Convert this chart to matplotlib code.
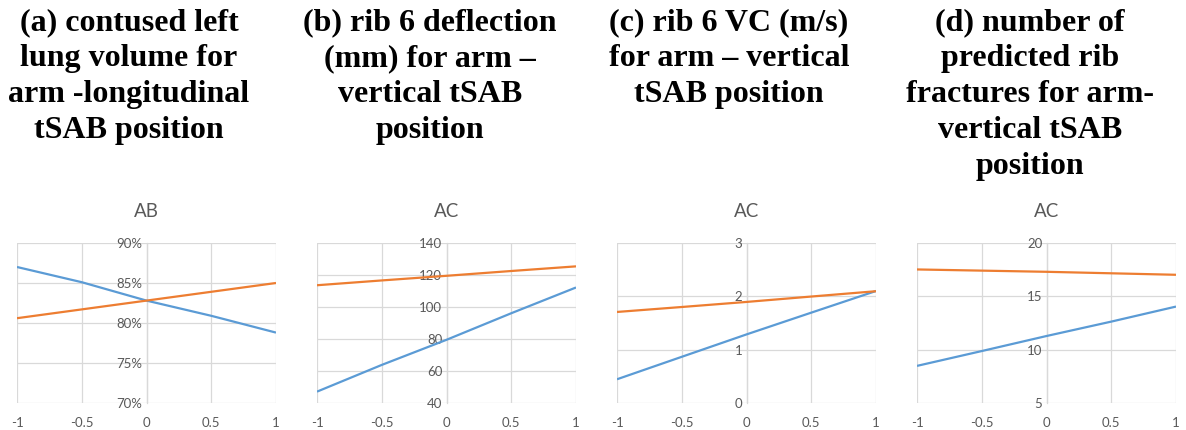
import matplotlib
matplotlib.use("Agg")
import matplotlib.pyplot as plt
from matplotlib.ticker import PercentFormatter, FixedLocator

plt.rcParams["axes.unicode_minus"] = False

# Coded factor levels (x axis) shared by every panel
levels = [-1, -0.5, 0, 0.5, 1]
xtick_labels = ["-1", "-0.5", "0", "0.5", "1"]

# (a) contused left lung volume, fraction
lung_blue = [0.870, 0.851, 0.828, 0.809, 0.788]
lung_orange = [0.806, 0.817, 0.828, 0.839, 0.850]

# (b) rib 6 deflection, mm
defl_blue = [47.1, 63.8, 79.5, 96.1, 112.2]
defl_orange = [113.6, 116.6, 119.5, 122.5, 125.4]

# (c) rib 6 VC, m/s
vc_blue = [0.445, 0.866, 1.286, 1.694, 2.10]
vc_orange = [1.707, 1.80, 1.895, 1.996, 2.096]

# (d) predicted rib fractures
frac_blue = [8.48, 9.87, 11.28, 12.63, 14.04]
frac_orange = [17.52, 17.41, 17.30, 17.16, 17.02]

panel_titles = [
    "(a) contused left\nlung volume for\narm -longitudinal\ntSAB position",
    "(b) rib 6 deflection\n(mm) for arm \u2013\nvertical tSAB\nposition",
    "(c) rib 6 VC (m/s)\nfor arm \u2013 vertical\ntSAB position",
    "(d) number of\npredicted rib\nfractures for arm-\nvertical tSAB\nposition",
]
chart_titles = ["AB", "AC", "AC", "AC"]
y_limits = [(0.70, 0.90), (40, 140), (0, 3), (5, 20)]
y_ticks = [
    [0.70, 0.75, 0.80, 0.85, 0.90],
    [40, 60, 80, 100, 120, 140],
    [0, 1, 2, 3],
    [5, 10, 15, 20],
]
series = [
    (lung_blue, lung_orange),
    (defl_blue, defl_orange),
    (vc_blue, vc_orange),
    (frac_blue, frac_orange),
]

BLUE = "#5b9bd5"
ORANGE = "#ed7d31"
GRID = "#d9d9d9"
TEXT = "#595959"
W, H = 1186, 430

fig = plt.figure(figsize=(W / 100, H / 100), dpi=100)

plot_lefts = [17, 317, 617, 917]
plot_width = 259
plot_top, plot_bottom = 243, 403
title_centers = [129, 430, 729, 1030]

for i in range(4):
    ax = fig.add_axes([plot_lefts[i] / W, (H - plot_bottom) / H,
                       plot_width / W, (plot_bottom - plot_top) / H])
    blue, orange = series[i]
    ax.plot(levels, blue, color=BLUE, lw=1.6, solid_capstyle="butt", zorder=3)
    ax.plot(levels, orange, color=ORANGE, lw=1.6, solid_capstyle="butt", zorder=4)

    ax.set_xlim(-1, 1)
    ax.set_ylim(*y_limits[i])
    ax.xaxis.set_major_locator(FixedLocator(levels))
    ax.set_xticklabels(xtick_labels)
    ax.set_yticks(y_ticks[i])
    if i == 0:
        ax.yaxis.set_major_formatter(PercentFormatter(1.0, decimals=0))

    ax.grid(True, color=GRID, lw=0.9, zorder=0)
    ax.set_axisbelow(True)
    for side in ("top", "right", "bottom"):
        ax.spines[side].set_visible(False)
    ax.spines["left"].set_position(("data", 0))
    ax.spines["left"].set_color(GRID)
    ax.spines["left"].set_linewidth(0.9)
    ax.tick_params(axis="both", length=0, colors=TEXT, labelsize=9.5)
    ax.tick_params(axis="x", pad=10)
    ax.tick_params(axis="y", pad=3)
    for lab in ax.get_xticklabels() + ax.get_yticklabels():
        lab.set_fontfamily("Lato")

    fig.text((plot_lefts[i] + plot_width / 2) / W, (H - 212) / H, chart_titles[i],
             ha="center", va="center", fontsize=13.5, color=TEXT, family="Lato")

    fig.text(title_centers[i] / W, 1 - 8 / H, panel_titles[i],
             ha="center", va="top", fontsize=23, fontweight="bold",
             family="Liberation Serif", linespacing=1.32, color="black")

fig.savefig("out.png", dpi=100, facecolor="white")
